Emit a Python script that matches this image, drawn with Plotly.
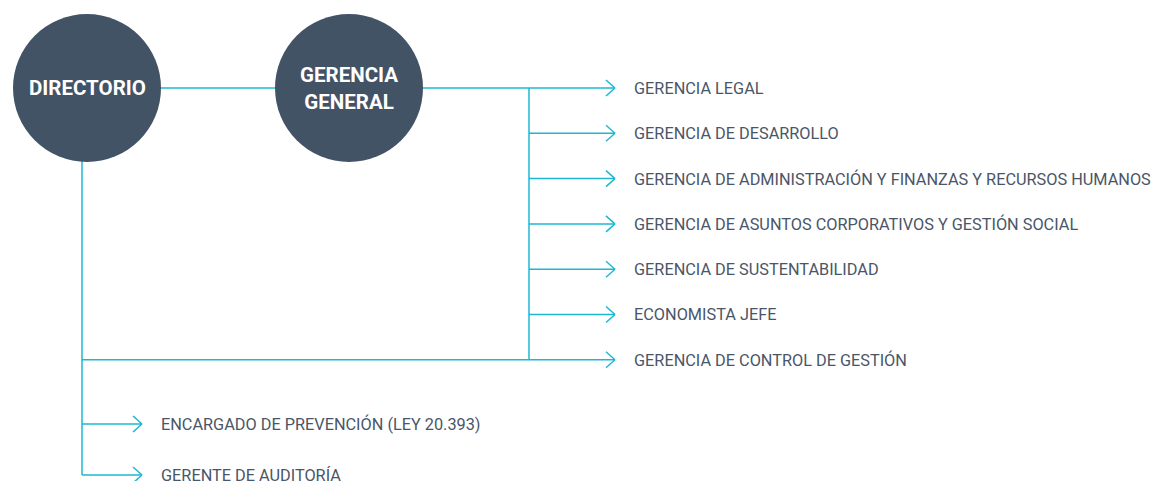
import plotly.graph_objects as go

# Org chart content
top_nodes = ["DIRECTORIO", "GERENCIA<br>GENERAL"]
gg_units = [
    "GERENCIA LEGAL",
    "GERENCIA DE DESARROLLO",
    "GERENCIA DE ADMINISTRACIÓN Y FINANZAS Y RECURSOS HUMANOS",
    "GERENCIA DE ASUNTOS CORPORATIVOS Y GESTIÓN SOCIAL",
    "GERENCIA DE SUSTENTABILIDAD",
    "ECONOMISTA JEFE",
]
shared_unit = "GERENCIA DE CONTROL DE GESTIÓN"
dir_units = ["ENCARGADO DE PREVENCIÓN (LEY 20.393)", "GERENTE DE AUDITORÍA"]

W, H = 1166, 481
PAD = 8  # page body margin around the plot div
LINE = "#1cb8d2"
NODE = "#435366"
TEXT = "#4a5668"
FONT = "Roboto, Lato, sans-serif"

node_x = [87, 349]
node_y = 88
r = 74
spine_x = 529
dir_x = 82
tip_x = 615
step = 45.3

shapes = []
annotations = []


def seg(x0, y0, x1, y1):
    shapes.append(dict(type="line", x0=x0, y0=y0, x1=x1, y1=y1,
                       line=dict(color=LINE, width=1.5), layer="below"))


def arrow(xt, y, text):
    seg(xt - 9, y - 8, xt, y)
    seg(xt, y, xt - 9, y + 8)
    annotations.append(dict(x=xt + 17, y=y, text=text, showarrow=False,
                            xanchor="left", yanchor="middle",
                            font=dict(family=FONT, size=16.3, color=TEXT)))


# link between the two circles and on to the spine
seg(node_x[0], node_y, node_x[1], node_y)
seg(node_x[1], node_y, tip_x, node_y)

ys = [node_y + i * step for i in range(len(gg_units))]
shared_y = node_y + len(gg_units) * step
seg(spine_x, node_y, spine_x, shared_y)
for y, name in zip(ys, gg_units):
    if y != node_y:
        seg(spine_x, y, tip_x, y)
    arrow(tip_x, y, name)

# directorio branch
low_ys = [424, 475]
seg(dir_x, node_y, dir_x, low_ys[-1])
seg(dir_x, shared_y, tip_x, shared_y)
arrow(tip_x, shared_y, shared_unit)
for y, name in zip(low_ys, dir_units):
    seg(dir_x, y, 142, y)
    arrow(142, y, name)

for x, name in zip(node_x, top_nodes):
    shapes.append(dict(type="circle", x0=x - r, y0=node_y - r, x1=x + r, y1=node_y + r,
                       fillcolor=NODE, line=dict(width=0), layer="above"))
    annotations.append(dict(x=x, y=node_y, text="<b>" + name + "</b>", showarrow=False,
                            font=dict(family=FONT, size=20.5, color="white")))

fig = go.Figure()
fig.update_layout(
    width=W - PAD, height=H - PAD,
    margin=dict(l=0, r=0, t=0, b=0),
    paper_bgcolor="white", plot_bgcolor="white",
    xaxis=dict(range=[PAD, W], visible=False, fixedrange=True),
    yaxis=dict(range=[H, PAD], visible=False, fixedrange=True),
    shapes=shapes, annotations=annotations,
    showlegend=False,
)
fig.write_html("out.html")
